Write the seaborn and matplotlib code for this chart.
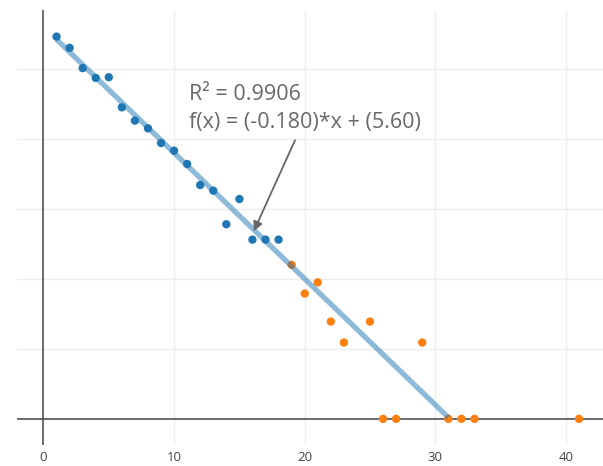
"""Log-count decay with linear fit, plotly-like look."""

import matplotlib
matplotlib.use("Agg")
import matplotlib.pyplot as plt
import pandas as pd
import seaborn as sns

# data
blue_x = [1, 2, 3, 4, 5, 6, 7, 8, 9, 10, 11, 12, 13, 14, 15, 16, 17, 18]
blue_y = [5.46, 5.30, 5.01, 4.87, 4.88, 4.45, 4.26, 4.15, 3.94, 3.83,
          3.64, 3.34, 3.26, 2.78, 3.14, 2.56, 2.56, 2.56]
orange_x = [19, 20, 21, 22, 23, 25, 26, 27, 29, 31, 32, 33, 41]
orange_y = [2.20, 1.79, 1.95, 1.39, 1.09, 1.39, 0, 0, 1.09, 0, 0, 0, 0]

fit_x = [1, 31]
fit_y = [5.42, 0.02]

x_ticks = [0, 10, 20, 30, 40]
y_grid = [1, 2, 3, 4, 5]

annot_lines = ["R² = 0.9906", "f(x) = (-0.180)*x + (5.60)"]

BLUE = "#1f77b4"
ORANGE = "#ff7f0e"
ZERO = "#444444"
GRID = "#eeeeee"
TEXT = "#686868"

sns.set_theme(style="white")
plt.rcParams["font.family"] = ["Open Sans", "DejaVu Sans"]

points = pd.DataFrame(
    {
        "x": blue_x + orange_x,
        "y": blue_y + orange_y,
        "group": ["a"] * len(blue_x) + ["b"] * len(orange_x),
    }
)
fit = pd.DataFrame({"x": fit_x, "y": fit_y})

fig = plt.figure(figsize=(6.03, 4.66), dpi=100)
ax = fig.add_axes([0.0277, 0.045, 0.9723, 0.9335])

sns.scatterplot(
    data=points, x="x", y="y", hue="group",
    palette={"a": BLUE, "b": ORANGE},
    s=36, linewidth=0, legend=False, ax=ax, zorder=3,
)
sns.lineplot(
    data=fit, x="x", y="y", color=BLUE, alpha=0.5,
    linewidth=3.8, ax=ax, zorder=4, solid_capstyle="butt",
)

ax.set_xlim(-2.05, 42.84)
ax.set_ylim(-0.374, 5.84)

for gx in x_ticks[1:]:
    ax.axvline(gx, color=GRID, linewidth=1, zorder=1)
for gy in y_grid:
    ax.axhline(gy, color=GRID, linewidth=1, zorder=1)
ax.axhline(0, color=ZERO, linewidth=1.1, zorder=2)
ax.axvline(0, color=ZERO, linewidth=1.1, zorder=2)

ax.set_xticks(x_ticks)
ax.set_xticklabels([str(t) for t in x_ticks])
ax.set_yticks([])
ax.tick_params(axis="x", length=0, pad=4, labelsize=9.5, colors=ZERO)
ax.set_xlabel("")
ax.set_ylabel("")
for side in ax.spines.values():
    side.set_visible(False)

ax.text(11.14, 4.63, annot_lines[0], ha="left", va="center",
        fontsize=15.5, color=TEXT)
ax.text(11.14, 4.24, annot_lines[1], ha="left", va="center",
        fontsize=15.5, color=TEXT)
ax.annotate(
    "", xy=(16.1, 2.68), xytext=(19.26, 3.98),
    arrowprops={"arrowstyle": "-|>", "color": "#666666", "lw": 1.3,
                "mutation_scale": 14, "shrinkA": 0, "shrinkB": 0},
    zorder=5,
)

fig.savefig("out.png", dpi=100)
